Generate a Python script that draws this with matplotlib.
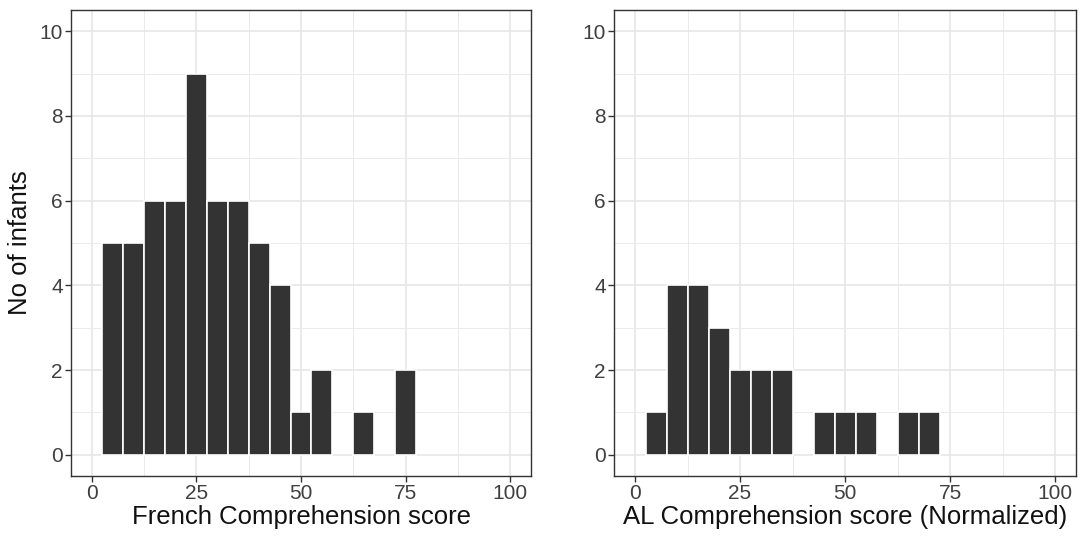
import numpy as np
import matplotlib
matplotlib.use("Agg")
import matplotlib.pyplot as plt

plt.rcParams['font.family'] = ['Liberation Sans', 'DejaVu Sans']

# bin centres (binwidth 5) and counts
french_bins = [5, 10, 15, 20, 25, 30, 35, 40, 45, 50, 55, 65, 75]
french_counts = [5, 5, 6, 6, 9, 6, 6, 5, 4, 1, 2, 1, 2]

al_bins = [5, 10, 15, 20, 25, 30, 35, 45, 50, 55, 65, 70]
al_counts = [1, 4, 4, 3, 2, 2, 2, 1, 1, 1, 1, 1]

xticks = [0, 25, 50, 75, 100]
yticks = [0, 2, 4, 6, 8, 10]

fig = plt.figure(figsize=(10.82, 5.39), dpi=100)
ax1 = fig.add_axes([71 / 1082, 63 / 539, 460 / 1082, 466 / 539])
ax2 = fig.add_axes([614 / 1082, 63 / 539, 462 / 1082, 466 / 539])


def style(ax, xlabel, ylabel=None):
    ax.set_xlim(-5, 105)
    ax.set_ylim(-0.5, 10.5)
    ax.set_xticks(xticks)
    ax.set_yticks(yticks)
    ax.set_xticks([12.5, 37.5, 62.5, 87.5], minor=True)
    ax.set_yticks([1, 3, 5, 7, 9], minor=True)
    ax.grid(which='major', color='#e6e6e6', linewidth=1.2)
    ax.grid(which='minor', color='#ebebeb', linewidth=0.7)
    ax.set_axisbelow(True)
    ax.tick_params(which='minor', length=0)
    ax.tick_params(which='major', length=4, width=1, color='#333333',
                   labelsize=15, labelcolor='#404040', pad=2)
    for s in ax.spines.values():
        s.set_color('#333333')
        s.set_linewidth(1)
    ax.set_xlabel(xlabel, fontsize=18.5, labelpad=1, color='#111111')
    if ylabel:
        ax.set_ylabel(ylabel, fontsize=18.5, labelpad=5, color='#111111')


ax1.bar(french_bins, french_counts, width=5, color='#333333', edgecolor='white', linewidth=1.2, zorder=2)
ax2.bar(al_bins, al_counts, width=5, color='#333333', edgecolor='white', linewidth=1.2, zorder=2)

style(ax1, 'French Comprehension score', 'No of infants')
style(ax2, 'AL Comprehension score (Normalized)')

fig.savefig('out.png', dpi=100)
